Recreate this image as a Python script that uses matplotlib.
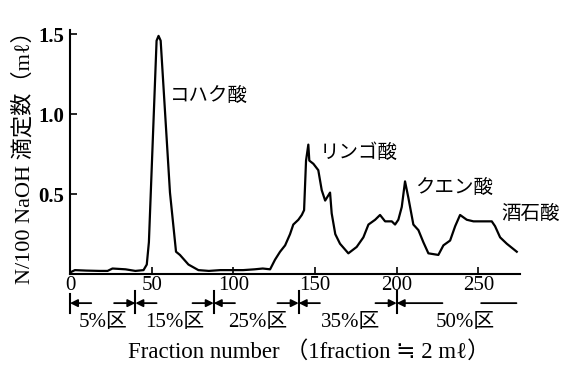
import matplotlib
matplotlib.use("Agg")
import matplotlib.pyplot as plt
import matplotlib.transforms as mtransforms

# ---- data ----
fraction = [0, 3, 10, 18, 23, 26, 34, 40, 45, 47, 48.3, 53, 54.2, 55.5, 61.2, 64.9,
            67.3, 72.5, 78.6, 85, 92, 99, 106, 113, 118, 122.5, 125.5, 128.6, 131.7,
            134.7, 136.7, 139.8, 141.9, 143.3, 144.5, 145.9, 146.5, 149, 152, 154.1,
            156.2, 159.2, 160.2, 162.4, 165.3, 170.4, 175.5, 179.6, 182.7, 186.8,
            189.8, 192.9, 197, 199, 201, 203.1, 205.1, 207.1, 210.2, 213.3, 216.3,
            219.4, 225.5, 228.6, 232.7, 235.8, 238.8, 242.9, 247, 253, 258.2, 260.2,
            263.3, 267.4, 273.5]
titre = [0.01, 0.025, 0.022, 0.02, 0.02, 0.035, 0.03, 0.02, 0.025, 0.06, 0.2, 1.46,
         1.49, 1.46, 0.51, 0.14, 0.12, 0.06, 0.025, 0.02, 0.025, 0.025, 0.025, 0.03,
         0.035, 0.03, 0.09, 0.14, 0.18, 0.25, 0.31, 0.34, 0.37, 0.40, 0.71, 0.81, 0.71,
         0.69, 0.65, 0.525, 0.46, 0.51, 0.38, 0.25, 0.19, 0.13, 0.17, 0.23, 0.31, 0.34,
         0.37, 0.33, 0.33, 0.31, 0.34, 0.42, 0.58, 0.48, 0.31, 0.275, 0.20, 0.13, 0.12,
         0.18, 0.21, 0.30, 0.37, 0.34, 0.33, 0.33, 0.33, 0.30, 0.23, 0.19, 0.14]

peak_names = ["コハク酸", "リンゴ酸", "クエン酸", "酒石酸"]
peak_label_x = [61, 153, 211, 264]
peak_label_y = [1.12, 0.76, 0.54, 0.38]

xticks = [0, 50, 100, 150, 200, 250]
yticks = [0.5, 1.0, 1.5]
ytick_labels = ["0.5", "1.0", "1.5"]

region_bounds = [0, 40, 88, 140, 200, 275]
region_labels = ["5%区", "15%区", "25%区", "35%区", "50%区"]
region_label_x = [20, 64, 115, 172, 242]

SERIF = ["Liberation Serif", "Noto Sans CJK JP", "DejaVu Sans"]
CJK = ["Noto Sans CJK JP", "DejaVu Sans"]

fig = plt.figure(figsize=(5.65, 3.65), dpi=100)
ax = fig.add_axes([0.1239, 0.249, 0.7965, 0.668])
ax.plot(fraction, titre, color="black", lw=1.6)
ax.set_xlim(0, 275.5)
ax.set_ylim(0, 1.525)
for s in ["top", "right"]:
    ax.spines[s].set_visible(False)
for s in ["left", "bottom"]:
    ax.spines[s].set_linewidth(1.5)

ax.set_xticks(xticks)
ax.set_xticklabels([str(t) for t in xticks], family=SERIF, fontsize=15)
ax.set_yticks(yticks)
ax.set_yticklabels(ytick_labels, family=SERIF, fontsize=15, fontweight="bold")
ax.tick_params(direction="in", length=5, width=1.2, pad=1)
ax.tick_params(axis="y", pad=4)

for name, lx, ly in zip(peak_names, peak_label_x, peak_label_y):
    ax.text(lx, ly, name, family=CJK, fontsize=14, ha="left", va="center")

ax.set_ylabel("N/100 NaOH 滴定数（mℓ）", family=SERIF, fontsize=16, labelpad=3)
fig.text(309 / 565, 0.036, "Fraction number （1fraction ≒ 2 mℓ）",
         family=SERIF, fontsize=16.5, ha="center", va="center")

# region markers below the axis
trans = mtransforms.blended_transform_factory(ax.transData, ax.transAxes)
ya = -0.119
arr = dict(arrowstyle="-|>", color="black", lw=1.3, mutation_scale=11,
           shrinkA=0, shrinkB=0)
# start marker
ax.plot([0, 0], [-0.08, -0.16], color="black", lw=1.5, transform=trans, clip_on=False)
ax.annotate("", xy=(0, ya), xytext=(13, ya), xycoords=trans, textcoords=trans,
            arrowprops=arr, annotation_clip=False)
for b in region_bounds[1:-1]:
    half_l = 13
    half_r = 28 if b == 200 else 13
    ax.plot([b, b], [-0.07, -0.16], color="black", lw=1.5, transform=trans,
            clip_on=False)
    ax.annotate("", xy=(b, ya), xytext=(b - half_l, ya), xycoords=trans,
                textcoords=trans, arrowprops=arr, annotation_clip=False)
    ax.annotate("", xy=(b, ya), xytext=(b + half_r, ya), xycoords=trans,
                textcoords=trans, arrowprops=arr, annotation_clip=False)
ax.annotate("", xy=(region_bounds[-1], ya), xytext=(250, ya), xycoords=trans,
            textcoords=trans,
            arrowprops=dict(arrowstyle="-", color="black", lw=1.3),
            annotation_clip=False)

for lab, lx in zip(region_labels, region_label_x):
    ax.text(lx, -0.2, lab, transform=trans, family=SERIF, fontsize=15,
            ha="center", va="center")

fig.savefig("out.png", dpi=100)
